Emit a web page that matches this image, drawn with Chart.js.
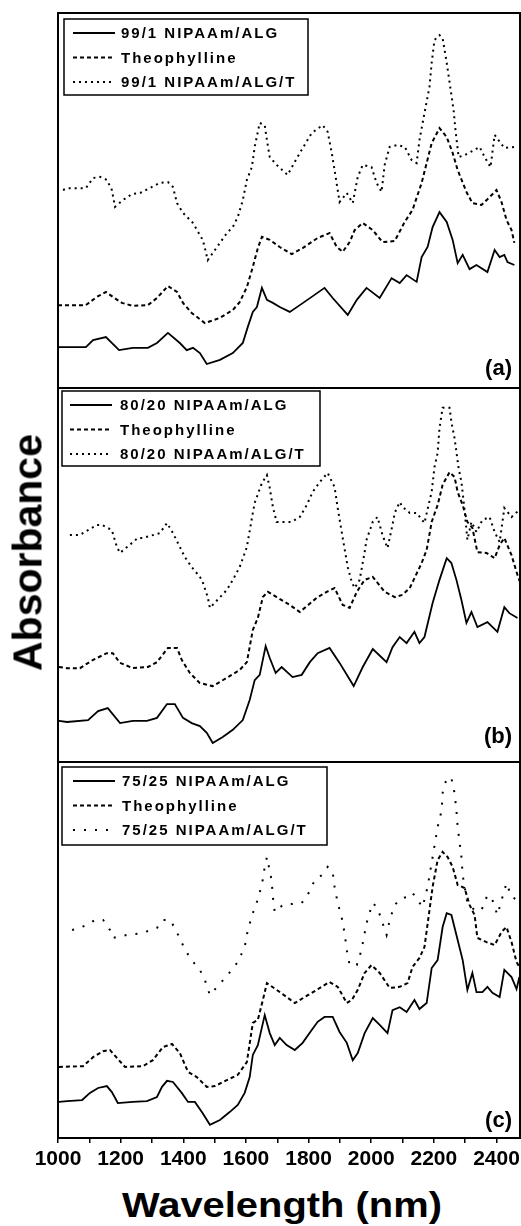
<!DOCTYPE html>
<html>
<head>
<meta charset="utf-8">
<script src="https://cdn.jsdelivr.net/npm/chart.js@4.4.1/dist/chart.umd.min.js"></script>
<style>
  html, body { margin: 0; padding: 0; background: #fff; }
  #wrap { position: relative; width: 521px; height: 1226px; overflow: hidden; background: #fff; }
  canvas { position: absolute; left: 0; }
  #ytitle {
    position: absolute; left: -122px; top: 529px; width: 300px;
    line-height: 41px; text-align: center; color: #000;
    font: bold 41px "Liberation Sans", Arial, sans-serif;
    transform: rotate(-90deg);
  }
  #xtitle {
    position: absolute; left: 82px; top: 1185px; width: 400px;
    line-height: 35px; text-align: center; color: #000;
    font: bold 35px "Liberation Sans", Arial, sans-serif;
    transform: scaleX(1.14);
  }
</style>
</head>
<body>
<div id="wrap">
  <canvas id="chartA" width="521" height="390" style="top:0px"></canvas>
  <canvas id="chartB" width="521" height="378" style="top:386px"></canvas>
  <canvas id="chartC" width="521" height="410" style="top:760px"></canvas>
  <div id="ytitle">Absorbance</div>
  <div id="xtitle">Wavelength (nm)</div>
</div>
<script>
// --------------- Data ---------------
const X_MIN = 1000;
const X_MAX = 2475;
const X_STEP = 100;        // minor ticks
const X_LABEL_STEP = 200;  // labelled ticks

const labelsA = ["99/1 NIPAAm/ALG", "Theophylline", "99/1 NIPAAm/ALG/T"];
const labelsB = ["80/20 NIPAAm/ALG", "Theophylline", "80/20 NIPAAm/ALG/T"];
const labelsC = ["75/25 NIPAAm/ALG", "Theophylline", "75/25 NIPAAm/ALG/T"];
const panelTags = ["(a)", "(b)", "(c)"];

// [wavelength nm, absorbance a.u.]
const polymerA = [[1000,10.9],[1089,10.9],[1112,12.8],[1153,13.6],[1195,10.1],[1239,10.7],[1287,10.7],[1316,12.0],[1351,14.7],[1389,12.0],[1411,10.1],[1431,10.7],[1453,9.3],[1475,6.4],[1517,7.5],[1558,9.3],[1590,12.0],[1606,16.3],[1622,20.3],[1635,21.6],[1651,26.7],[1667,23.5],[1686,22.7],[1708,21.6],[1740,20.3],[1772,22.1],[1810,24.3],[1851,26.7],[1877,24.0],[1925,19.5],[1954,23.5],[1985,26.7],[2027,24.0],[2065,29.3],[2091,28.0],[2113,30.1],[2145,28.3],[2161,34.9],[2180,37.6],[2196,42.9],[2218,46.9],[2241,44.3],[2260,39.5],[2276,33.3],[2292,35.5],[2314,31.7],[2336,32.8],[2371,30.9],[2394,36.8],[2410,34.9],[2425,35.5],[2435,33.6],[2457,32.8]];
const theoA = [[1000,22.1],[1089,22.1],[1124,24.3],[1153,25.6],[1175,24.3],[1204,22.7],[1239,21.9],[1287,22.1],[1316,24.0],[1351,27.2],[1380,25.6],[1399,22.7],[1427,20.0],[1469,17.3],[1517,18.7],[1558,20.8],[1580,22.9],[1603,26.9],[1622,32.3],[1638,37.3],[1651,40.3],[1676,39.5],[1708,37.6],[1746,35.7],[1781,37.3],[1829,40.0],[1867,41.3],[1890,37.6],[1909,36.3],[1931,38.9],[1947,42.1],[1973,44.0],[2005,42.1],[2036,38.9],[2075,39.2],[2107,44.3],[2132,47.5],[2161,54.7],[2177,60.0],[2193,65.3],[2218,69.3],[2241,66.9],[2260,62.7],[2276,58.1],[2304,52.3],[2323,49.3],[2352,48.8],[2378,50.9],[2400,52.8],[2416,49.6],[2432,44.8],[2448,42.1],[2457,38.7]];
const loadedA = [[1016,52.8],[1032,53.3],[1089,53.3],[1112,56.0],[1134,56.3],[1156,55.5],[1172,52.8],[1182,48.3],[1207,50.1],[1236,51.7],[1262,52.0],[1325,54.7],[1351,54.9],[1367,53.6],[1380,49.3],[1399,46.7],[1431,44.0],[1462,39.5],[1469,37.3],[1478,34.1],[1517,38.7],[1539,41.3],[1558,42.9],[1574,45.6],[1590,50.1],[1603,55.5],[1619,58.9],[1628,64.3],[1644,70.7],[1660,70.1],[1667,66.1],[1676,61.6],[1698,59.5],[1733,56.8],[1756,60.3],[1778,63.5],[1810,68.0],[1845,70.1],[1861,68.3],[1874,62.7],[1883,58.1],[1899,49.6],[1922,52.0],[1941,49.3],[1957,56.3],[1973,59.5],[2001,58.9],[2017,54.7],[2033,52.3],[2043,59.5],[2059,64.3],[2084,64.8],[2107,64.3],[2129,60.8],[2145,60.0],[2154,66.1],[2170,73.3],[2186,80.3],[2193,86.7],[2202,92.8],[2218,94.1],[2228,93.3],[2241,86.7],[2250,81.6],[2263,74.1],[2269,68.8],[2279,61.6],[2298,62.1],[2330,63.5],[2346,64.3],[2362,61.6],[2381,58.9],[2394,67.5],[2425,64.0],[2457,64.3]];

const polymerB = [[1003,11.0],[1029,10.7],[1096,11.2],[1128,13.6],[1159,14.4],[1198,10.4],[1239,11.0],[1284,11.0],[1316,11.8],[1348,15.5],[1373,15.5],[1399,11.8],[1427,10.4],[1453,9.6],[1475,7.8],[1494,5.1],[1526,6.7],[1558,8.6],[1590,11.2],[1612,16.6],[1628,21.9],[1644,23.3],[1663,31.0],[1676,27.8],[1695,23.8],[1714,25.4],[1749,22.7],[1778,23.3],[1804,26.7],[1829,29.1],[1867,30.5],[1899,26.5],[1944,20.3],[1973,25.4],[2005,30.2],[2049,26.7],[2068,30.7],[2091,33.4],[2113,31.8],[2138,34.8],[2154,31.8],[2170,33.4],[2196,42.5],[2218,48.7],[2241,54.5],[2256,53.2],[2272,48.7],[2288,43.3],[2304,37.2],[2320,40.1],[2339,36.1],[2371,37.4],[2403,34.8],[2425,41.4],[2441,39.8],[2467,38.5]];
const theoB = [[1003,25.4],[1029,25.1],[1070,25.1],[1112,27.3],[1156,29.1],[1175,29.1],[1198,26.5],[1239,25.1],[1287,25.4],[1316,26.7],[1351,30.5],[1380,30.5],[1395,27.3],[1421,23.8],[1453,21.1],[1494,20.3],[1539,22.5],[1580,24.6],[1603,26.7],[1622,35.3],[1638,38.5],[1654,44.1],[1670,45.5],[1698,44.1],[1740,42.0],[1772,40.1],[1826,43.9],[1858,45.5],[1883,46.5],[1909,42.0],[1931,41.2],[1954,45.5],[1979,48.7],[2005,49.5],[2043,45.5],[2075,44.1],[2100,44.7],[2123,46.5],[2161,53.2],[2177,56.7],[2193,64.2],[2212,68.7],[2228,74.1],[2250,77.5],[2266,76.2],[2276,72.2],[2292,68.7],[2307,64.2],[2323,62.6],[2339,56.1],[2368,55.9],[2394,54.5],[2410,58.0],[2425,59.9],[2448,55.3],[2464,50.8],[2475,48.1]];
const loadedB = [[1038,60.7],[1070,60.7],[1124,63.4],[1140,63.4],[1172,62.0],[1188,57.5],[1198,55.9],[1255,59.9],[1271,59.9],[1325,61.2],[1348,63.9],[1367,61.2],[1405,54.8],[1427,52.1],[1453,49.5],[1462,48.1],[1478,44.1],[1485,41.2],[1539,46.0],[1558,48.7],[1580,52.1],[1603,57.5],[1622,66.6],[1628,69.3],[1651,74.6],[1667,76.7],[1676,73.3],[1686,68.2],[1698,64.2],[1730,64.2],[1746,64.2],[1772,65.5],[1794,68.7],[1813,72.2],[1836,74.9],[1861,77.3],[1883,73.5],[1893,67.9],[1909,59.9],[1925,52.1],[1938,48.1],[1947,46.5],[1963,48.7],[1979,56.1],[1985,59.4],[2005,64.2],[2020,65.5],[2036,60.7],[2052,57.2],[2068,63.4],[2075,66.6],[2091,69.5],[2100,68.2],[2123,66.6],[2145,66.6],[2170,63.9],[2183,68.7],[2193,72.2],[2202,78.9],[2212,82.6],[2218,89.3],[2228,94.7],[2250,94.7],[2256,90.9],[2266,86.6],[2272,82.9],[2279,78.6],[2288,74.9],[2298,67.4],[2307,59.4],[2320,64.2],[2336,61.5],[2355,64.7],[2378,65.5],[2394,61.5],[2410,58.8],[2425,67.9],[2448,65.5],[2473,67.4]];

const polymerC = [[1003,9.6],[1029,9.8],[1077,10.1],[1102,12.0],[1128,13.3],[1156,13.8],[1172,12.2],[1191,9.3],[1239,9.6],[1284,9.8],[1316,10.9],[1332,13.6],[1348,15.2],[1367,14.9],[1395,12.0],[1415,9.6],[1437,9.6],[1462,6.6],[1485,3.5],[1517,4.8],[1548,6.9],[1574,8.8],[1596,12.0],[1612,16.2],[1622,22.1],[1638,24.7],[1660,32.7],[1676,27.9],[1692,24.7],[1708,26.6],[1730,24.7],[1756,23.4],[1781,25.3],[1810,28.7],[1829,30.9],[1851,32.2],[1877,32.2],[1899,28.2],[1922,25.3],[1941,20.7],[1957,22.6],[1979,27.9],[2005,31.9],[2027,30.1],[2052,27.9],[2068,34.0],[2091,34.8],[2113,33.5],[2138,36.7],[2154,34.3],[2177,35.9],[2193,45.2],[2212,47.3],[2228,56.1],[2241,59.8],[2256,59.3],[2272,54.0],[2292,47.3],[2307,39.4],[2323,43.9],[2336,38.8],[2355,38.8],[2371,40.2],[2387,38.6],[2410,37.5],[2425,44.7],[2448,42.8],[2464,39.6],[2473,42.8]];
const theoC = [[1003,18.9],[1080,19.1],[1112,21.5],[1144,23.1],[1166,23.4],[1188,21.3],[1214,18.9],[1271,19.1],[1303,20.7],[1335,24.2],[1364,25.0],[1389,22.6],[1415,17.6],[1443,16.2],[1475,13.6],[1501,13.8],[1539,15.4],[1574,16.8],[1603,20.2],[1622,30.6],[1638,31.4],[1654,36.7],[1667,41.2],[1698,39.4],[1730,37.5],[1756,35.9],[1788,37.5],[1826,39.4],[1867,41.5],[1893,40.2],[1922,35.9],[1938,36.7],[1957,39.4],[1979,43.9],[2001,46.0],[2027,43.9],[2059,39.9],[2091,40.2],[2116,41.2],[2132,45.5],[2154,47.9],[2170,50.8],[2186,60.6],[2196,66.8],[2212,73.9],[2228,76.1],[2244,74.7],[2260,72.1],[2276,67.3],[2298,66.5],[2314,62.0],[2330,59.3],[2339,53.2],[2368,52.1],[2394,51.3],[2416,54.8],[2432,56.1],[2448,52.1],[2464,46.8],[2473,45.5]];
const loadedC = [[1045,55.3],[1092,56.6],[1118,58.0],[1144,58.0],[1166,55.3],[1175,53.2],[1220,54.0],[1268,54.5],[1316,55.9],[1335,58.0],[1357,58.0],[1373,55.9],[1395,51.9],[1421,47.9],[1453,44.7],[1469,42.0],[1485,38.0],[1539,43.1],[1574,46.8],[1596,50.8],[1606,55.3],[1622,59.8],[1635,62.8],[1651,67.3],[1660,72.1],[1667,74.7],[1682,68.6],[1686,64.1],[1692,60.1],[1718,62.0],[1778,62.5],[1794,64.1],[1820,68.6],[1842,69.9],[1861,72.1],[1877,70.7],[1883,66.8],[1893,62.5],[1906,58.5],[1915,54.5],[1922,50.0],[1931,46.0],[1954,46.0],[1969,50.0],[1979,54.5],[1989,58.5],[2005,62.5],[2020,61.2],[2036,57.2],[2049,54.0],[2059,58.0],[2075,62.0],[2097,63.8],[2116,64.1],[2132,65.2],[2148,63.3],[2164,61.4],[2180,66.8],[2196,74.7],[2212,82.7],[2225,87.2],[2228,91.8],[2241,95.7],[2256,95.7],[2266,91.8],[2272,87.2],[2276,82.7],[2282,78.7],[2288,74.7],[2292,69.9],[2307,62.5],[2330,60.6],[2352,60.6],[2371,64.6],[2387,63.3],[2403,59.3],[2419,64.1],[2432,67.8],[2448,64.1],[2467,63.3]];

// --------------- Styles ---------------
const FONT = '"Liberation Sans", Arial, sans-serif';
const SOLID = { borderWidth: 1.8, borderDash: [] };
const DASHED = { borderWidth: 2, borderDash: [4, 3] };
const DOTTED = { borderWidth: 2, borderDash: [2, 4] };
const DOTTED_SPARSE = { borderWidth: 2, borderDash: [2, 9] };

function series(label, pts, style) {
  return Object.assign({
    label: label,
    data: pts.map(p => ({ x: p[0], y: p[1] })),
    borderColor: '#000',
    pointRadius: 0,
    tension: 0,
    fill: false,
    borderCapStyle: 'butt'
  }, style);
}

// legend box, panel tag and frame
const panelDecor = {
  id: 'panelDecor',
  afterDatasetsDraw(chart, args, opts) {
    const ctx = chart.ctx;
    const a = chart.chartArea;
    ctx.save();
    const bx = a.left + opts.box[0], by = a.top + opts.box[1];
    const bw = opts.box[2], bh = opts.box[3];
    ctx.fillStyle = '#fff';
    ctx.fillRect(bx, by, bw, bh);
    ctx.lineWidth = 1.5;
    ctx.strokeStyle = '#000';
    ctx.strokeRect(bx, by, bw, bh);

    chart.data.datasets.forEach((ds, i) => {
      const y = by + 14 + i * 24.5;
      ctx.beginPath();
      ctx.setLineDash(ds.borderDash || []);
      ctx.lineWidth = ds.borderWidth;
      ctx.moveTo(bx + opts.sample[0], y);
      ctx.lineTo(bx + opts.sample[1], y);
      ctx.stroke();
      ctx.setLineDash([]);
      ctx.fillStyle = '#000';
      ctx.font = 'bold 15px ' + FONT;
      ctx.letterSpacing = '2px';
      ctx.textBaseline = 'middle';
      ctx.textAlign = 'left';
      ctx.fillText(ds.label, bx + opts.sample[2], y + 1);
    });

    ctx.letterSpacing = '0px';
    ctx.font = 'bold 22px ' + FONT;
    ctx.textAlign = 'right';
    ctx.textBaseline = 'alphabetic';
    ctx.fillText(opts.tag, a.right - 8, a.bottom - opts.tagOffset);

    ctx.lineWidth = 2;
    ctx.strokeRect(a.left, a.top, a.right - a.left, a.bottom - a.top);
    ctx.restore();
  }
};

function xScale(show) {
  const scale = {
    type: 'linear',
    min: X_MIN,
    max: X_MAX,
    display: show,
    afterBuildTicks: s => { s.ticks = s.ticks.filter(t => t.value % X_STEP === 0); },
    ticks: {
      stepSize: X_STEP,
      includeBounds: false,
      autoSkip: false,
      maxRotation: 0,
      padding: 4,
      color: '#000',
      font: { family: FONT, size: 21, weight: 'bold' },
      callback: v => (v % X_LABEL_STEP === 0 ? String(v) : '')
    },
    grid: { drawOnChartArea: false, drawTicks: true, tickLength: 5, color: '#000', lineWidth: 1.5 },
    border: { display: true, color: '#000', width: 2 }
  };
  if (show) {
    // fixed axis band; let labels overhang the plot edges like the original
    scale.afterFit = s => { s.height = 32; s.paddingLeft = 0; s.paddingRight = 0; };
  }
  return scale;
}

function makePanel(id, labels, sets, padding, showX, decor) {
  const ctx = document.getElementById(id).getContext('2d');
  return new Chart(ctx, {
    type: 'line',
    data: {
      datasets: [
        series(labels[0], sets[0], SOLID),
        series(labels[1], sets[1], DASHED),
        series(labels[2], sets[2], sets[3])
      ]
    },
    options: {
      responsive: false,
      animation: false,
      devicePixelRatio: 1,
      layout: { padding: padding },
      scales: {
        x: xScale(showX),
        y: { type: 'linear', min: 0, max: 100, display: false }
      },
      plugins: {
        legend: { display: false },
        tooltip: { enabled: false },
        panelDecor: decor
      }
    },
    plugins: [panelDecor]
  });
}

// --------------- Initialize ---------------
makePanel('chartA', labelsA, [polymerA, theoA, loadedA, DOTTED],
  { left: 58, right: 1, top: 13, bottom: 2 }, false,
  { box: [6, 6, 244, 76], sample: [9, 51, 57], tag: panelTags[0], tagOffset: 13 });

makePanel('chartB', labelsB, [polymerB, theoB, loadedB, DOTTED],
  { left: 58, right: 1, top: 2, bottom: 2 }, false,
  { box: [4, 3, 258, 75], sample: [8, 50, 58], tag: panelTags[1], tagOffset: 19 });

makePanel('chartC', labelsC, [polymerC, theoC, loadedC, DOTTED_SPARSE],
  { left: 58, right: 1, top: 2, bottom: 0 }, true,
  { box: [4, 5, 265, 78], sample: [11, 53, 60], tag: panelTags[2], tagOffset: 11 });
</script>
</body>
</html>
